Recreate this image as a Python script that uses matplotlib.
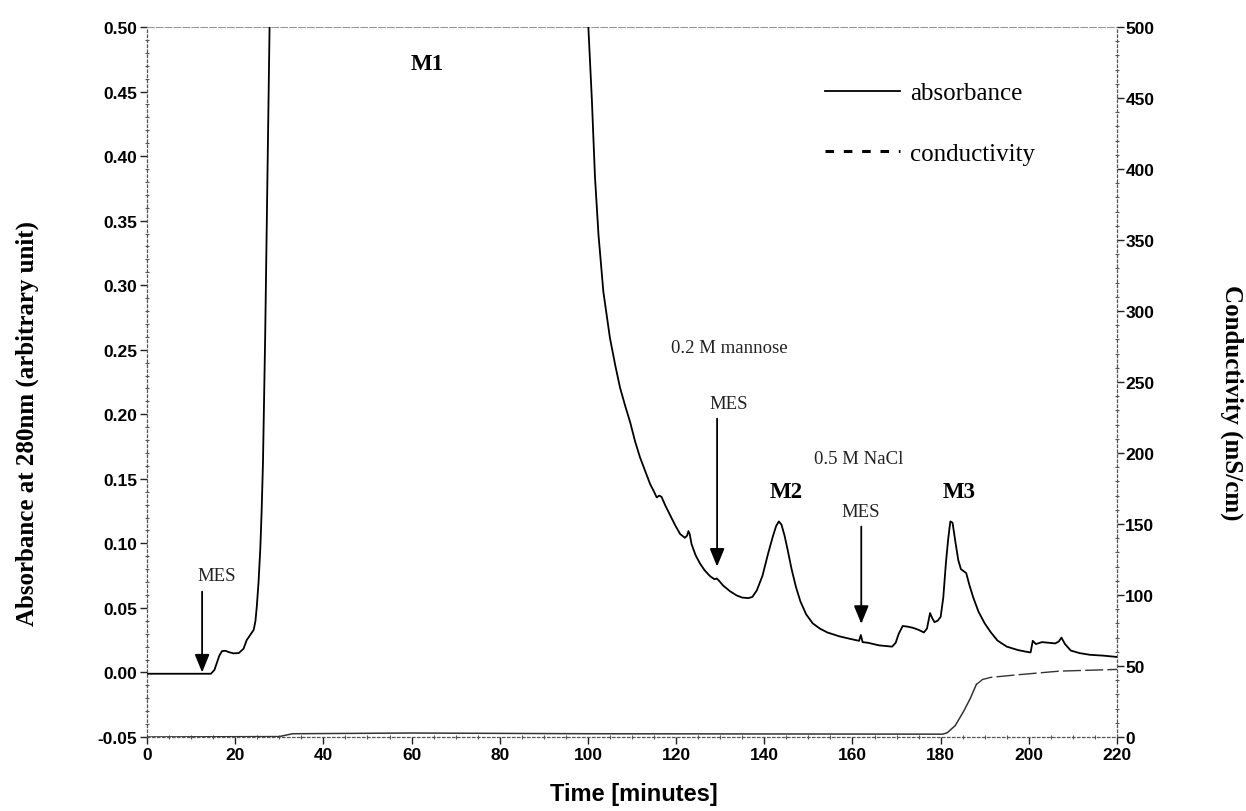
import numpy as np
import matplotlib
matplotlib.use("Agg")
import matplotlib.pyplot as plt
from matplotlib.lines import Line2D
from matplotlib.ticker import MultipleLocator, FormatStrFormatter

# ---- data ----
abs_time = [0, 5, 10, 14.5, 15.3, 15.8, 16.4, 17.0, 17.8, 18.5, 19.6, 20.8, 21.9,
            22.6, 23.4, 24.2, 24.6, 24.9, 25.3, 25.7, 26.0, 26.3, 26.8, 27.3, 27.8,
            28.2, 99.6, 100.1, 100.9, 101.6, 102.4, 103.5, 105.0, 106.2, 107.3,
            108.5, 109.6, 110.7, 111.8, 113.0, 114.1, 115.0, 115.6, 116.2, 116.7,
            117.6, 118.6, 119.8, 120.9, 122.0, 122.5, 122.8, 123.1, 123.5, 124.4,
            125.4, 126.5, 127.7, 128.7, 129.2, 129.7, 130.7, 132.2, 133.7, 135.0,
            136.4, 137.3, 138.3, 139.6, 140.9, 142.0, 142.7, 143.3, 143.9, 144.6,
            145.3, 146.2, 147.2, 148.2, 149.5, 151.0, 152.6, 154.3, 157.0, 159.5,
            161.5, 161.9, 162.3, 163.5, 166.0, 169.0, 169.8, 170.5, 171.4, 172.5,
            173.8, 175.0, 176.2, 176.9, 177.6, 178.1, 178.6, 179.3, 180.0, 180.6,
            181.2, 181.7, 182.2, 182.7, 183.4, 184.0, 184.6, 185.2, 185.8, 186.5,
            187.4, 188.6, 190.0, 191.4, 192.9, 195.0, 197.6, 199.5, 200.4, 200.9,
            201.6, 203.0, 204.5, 206.0, 206.8, 207.4, 208.2, 209.5, 211.5, 213.8,
            217.0, 220.0]
absorbance = [-0.001, -0.001, -0.001, -0.001, 0.002, 0.007, 0.013, 0.0165, 0.0168,
              0.0158, 0.0148, 0.015, 0.0184, 0.025, 0.029, 0.033, 0.040, 0.051,
              0.07, 0.096, 0.125, 0.162, 0.26, 0.38, 0.50, 0.55, 0.55, 0.50, 0.4435,
              0.384, 0.339, 0.295, 0.259, 0.238, 0.2204, 0.206, 0.1936, 0.179,
              0.1668, 0.156, 0.146, 0.140, 0.1356, 0.137, 0.136, 0.129, 0.1222,
              0.114, 0.1073, 0.1043, 0.106, 0.1095, 0.107, 0.0995, 0.091, 0.0845,
              0.079, 0.0746, 0.0722, 0.0728, 0.0712, 0.0672, 0.063, 0.0597, 0.058,
              0.0576, 0.0585, 0.0635, 0.075, 0.0925, 0.106, 0.1135, 0.117, 0.1145,
              0.106, 0.095, 0.080, 0.066, 0.055, 0.045, 0.038, 0.034, 0.031, 0.028,
              0.026, 0.0245, 0.029, 0.0235, 0.023, 0.021, 0.020, 0.023, 0.030, 0.036,
              0.0355, 0.0345, 0.033, 0.031, 0.034, 0.046, 0.042, 0.039, 0.040, 0.043,
              0.058, 0.085, 0.103, 0.117, 0.116, 0.100, 0.087, 0.080, 0.0785, 0.077,
              0.068, 0.058, 0.047, 0.038, 0.031, 0.0247, 0.020, 0.0173, 0.016, 0.0155,
              0.0245, 0.022, 0.0235, 0.023, 0.0225, 0.024, 0.027, 0.022, 0.017, 0.015,
              0.0137, 0.013, 0.012]

cond_time = [0, 30, 33, 60, 100, 180.5, 181.5, 183.3, 185.2, 186.7, 188.1, 189.5,
             191.4, 196.7, 207, 220]
conductivity = [0, 0.3, 2.3, 2.8, 2.3, 2.0, 3, 8, 18, 27, 37, 40.5, 42, 43.6, 46.4, 47.6]

x_ticks = list(range(0, 221, 20))
abs_ticks = [-0.05, 0.00, 0.05, 0.10, 0.15, 0.20, 0.25, 0.30, 0.35, 0.40, 0.45, 0.50]
cond_ticks = list(range(0, 501, 50))

peak_labels = [("M1", 63.6, 0.472), ("M2", 145.0, 0.140), ("M3", 184.3, 0.140)]
small_labels = [("MES", 15.7, 0.075), ("0.2 M mannose", 132.0, 0.252),
                ("MES", 132.0, 0.2087), ("0.5 M NaCl", 161.5, 0.1656),
                ("MES", 161.8, 0.125)]
# arrows: (x, start, tip)
arrows = [(12.5, 0.0626, 0.0), (129.3, 0.1966, 0.082), (162.0, 0.113, 0.0377)]

SERIF = "Liberation Serif"
SANS = "Liberation Sans"

fig = plt.figure(figsize=(12.46, 8.12), dpi=100)
W, H = 1246, 812
L, R, T, B = 147, 1117, 28, 738
ax = fig.add_axes([L / W, 1 - B / H, (R - L) / W, (B - T) / H])
ax2 = ax.twinx()

ax.set_xlim(0, 220)
ax.set_ylim(-0.05, 0.5)
ax2.set_ylim(0, 500)

# conductivity: looks solid on the baseline, long dashes once it rises
k = 10
ax2.plot(cond_time[:k + 1], conductivity[:k + 1], color="#333333", lw=1.1, zorder=3)
ax2.plot(cond_time[k:], conductivity[k:], color="#333333", lw=1.0,
         linestyle=(0, (13, 3)), zorder=3)
ax.plot(abs_time, absorbance, color="black", lw=1.3, zorder=3,
        solid_joinstyle="round")

# ticks
ax.set_xticks(x_ticks)
ax.xaxis.set_minor_locator(MultipleLocator(5))
ax.set_yticks(abs_ticks)
ax.yaxis.set_major_formatter(FormatStrFormatter("%.2f"))
ax.yaxis.set_minor_locator(MultipleLocator(0.01))
ax2.set_yticks(cond_ticks)
ax2.yaxis.set_minor_locator(MultipleLocator(10))

for a in (ax, ax2):
    a.tick_params(which="major", length=5, width=1.0, color="#222222")
    a.tick_params(which="minor", length=3, width=0.8, color="#555555", direction="inout")
ax.tick_params(axis="x", which="major", pad=2)
ax.tick_params(axis="y", which="major", pad=2)
ax2.tick_params(axis="y", which="major", pad=1)

for lab in ax.get_xticklabels() + ax.get_yticklabels() + ax2.get_yticklabels():
    lab.set_fontfamily(SANS)
    lab.set_fontweight("bold")
    lab.set_fontsize(12.5)

# spines
ax.spines["right"].set_visible(False)
for s in ("left", "top", "bottom"):
    ax2.spines[s].set_visible(False)
ax.spines["top"].set_color("#999999")
ax.spines["top"].set_linestyle((0, (6, 2)))
ax.spines["top"].set_linewidth(0.8)
for sp in (ax.spines["left"], ax.spines["bottom"], ax2.spines["right"]):
    sp.set_color("#555555")
    sp.set_linestyle((0, (2, 2)))
    sp.set_linewidth(0.9)

# annotations
for s, x, y in peak_labels:
    ax.text(x, y, s, ha="center", va="center", family=SERIF, fontweight="bold",
            fontsize=16.5)
for s, x, y in small_labels:
    ax.text(x, y, s, ha="center", va="center", family=SERIF, fontsize=13.5,
            color="#222222")
for x, y0, y1 in arrows:
    ax.annotate("", xy=(x, y1), xytext=(x, y0),
                arrowprops=dict(arrowstyle="-|>,head_length=1.1,head_width=0.45",
                                color="black", lw=1.3, shrinkA=0, shrinkB=0))

# legend
h1 = Line2D([], [], color="black", lw=1.3)
h2 = Line2D([], [], color="black", lw=2.2, linestyle=(0, (2.8, 3.2)))
leg = ax.legend([h1, h2], ["absorbance", "conductivity"], loc="upper left",
                bbox_to_anchor=(825 / W, 1 - 83 / H), bbox_transform=fig.transFigure,
                frameon=False, borderpad=0, borderaxespad=0, handlelength=3.0,
                handletextpad=0.4, labelspacing=1.5,
                prop={"family": SERIF, "size": 18})

# axis titles
fig.text(27 / W, 1 - 424 / H, "Absorbance at 280nm (arbitrary unit)", rotation=90,
         ha="center", va="center", family=SERIF, fontweight="bold", fontsize=18)
fig.text(1232 / W, 1 - 403 / H, "Conductivity (mS/cm)", rotation=270,
         ha="center", va="center", family=SERIF, fontweight="bold", fontsize=18)
fig.text(634 / W, 1 - 795 / H, "Time [minutes]", ha="center", va="center",
         family=SANS, fontweight="bold", fontsize=17)

fig.savefig("out.png", dpi=100)
